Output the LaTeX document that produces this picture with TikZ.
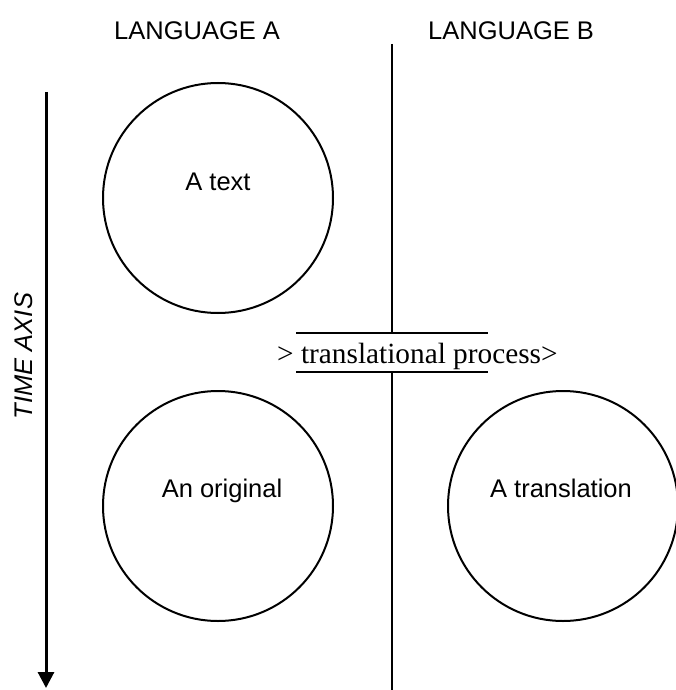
\documentclass[tikz,border=0pt]{standalone}
\usepackage{fontspec}
\setmainfont{Liberation Sans}
\newfontfamily\serifrm{Liberation Serif}
\usetikzlibrary{arrows.meta}
\tikzset{
  circ/.style={circle, draw, line width=2pt, minimum size=230pt, inner sep=0pt},
  lbl/.style={inner sep=0pt, anchor=base, font=\fontsize{25.5}{28}\selectfont},
  head/.style={inner sep=0pt, anchor=base west, font=\fontsize{25.5}{28}\selectfont},
  ln/.style={line width=2pt},
}
\begin{document}
\begin{tikzpicture}[x=1pt,y=-1pt]
\useasboundingbox (0,0) rectangle (676,690);
% headings
\node[head] (la) at (114,40) {LANGUAGE A};
\node[head] (lb) at (428,40) {LANGUAGE B};
% time axis
\coordinate (t0) at (46,92);
\coordinate (t1) at (46,688);
\draw[line width=3pt, -{Triangle[length=16pt,width=16pt]}] (t0) -- (t1);
\node[inner sep=0pt, rotate=90, font=\fontsize{25.5}{28}\selectfont\itshape] (ax) at (24,356) {TIME AXIS};
% separating line
\coordinate (v0) at (392,44);
\coordinate (v1) at (392,333);
\coordinate (v2) at (392,372);
\coordinate (v3) at (392,692);
\draw[ln] (v0) -- (v1);
\draw[ln] (v2) -- (v3);
% process box lines
\coordinate (h0) at (296,333);
\coordinate (h1) at (488,333);
\coordinate (h2) at (296,372);
\coordinate (h3) at (488,372);
\draw[ln] (h0) -- (h1);
\draw[ln] (h2) -- (h3);
\node[inner sep=0pt, anchor=base west, font=\serifrm\fontsize{29.3}{32}\selectfont] (tp) at (277,363) {> translational process>};
% circles
\node[circ] (c1) at (218,198) {};
\node[circ] (c2) at (218,506) {};
\node[circ] (c3) at (563,506) {};
\node[lbl] (l1) at (218,190) {A text};
\node[lbl] (l2) at (222,497) {An original};
\node[lbl] (l3) at (561,497) {A translation};
\end{tikzpicture}
\end{document}
